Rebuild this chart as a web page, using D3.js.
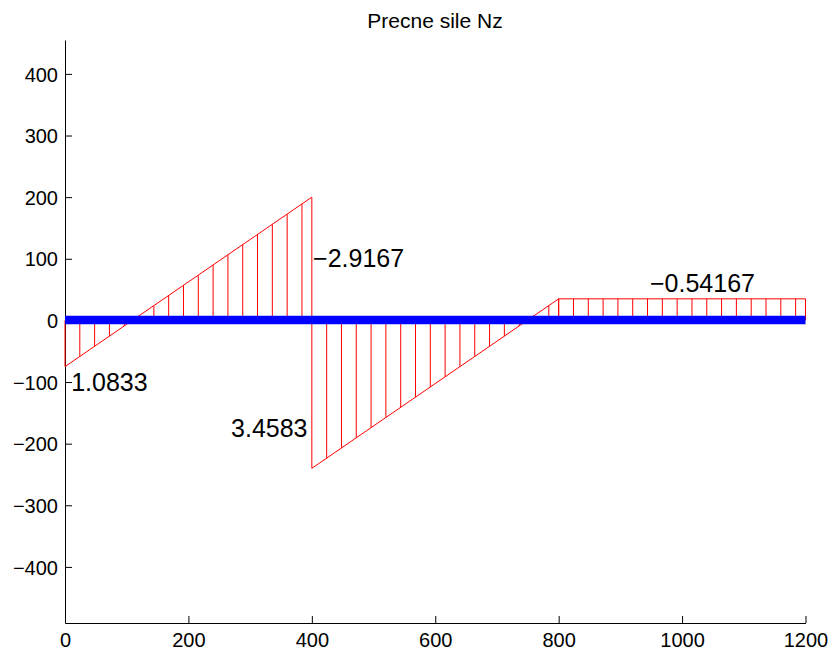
<!DOCTYPE html>
<html lang="en">
<head>
    <meta charset="UTF-8">
    <title>Precne sile Nz</title>
    <script src="https://d3js.org/d3.v7.min.js"></script>
    <style>
        body { margin: 0; background: #fff; }
        text { font-family: "Liberation Sans", Arial, sans-serif; fill: #000; }
        .tick-label { font-size: 20px; }
        .title { font-size: 21px; }
        .value-label { font-size: 25px; }
    </style>
</head>
<body>

<svg width="835" height="652"></svg>

<script>
    // Shear force segments (x in cm, value)
    const segFrom = [0, 400, 800];
    const segTo = [400, 800, 1200];
    const shearFrom = [-75, -240, 35];
    const shearTo = [200, 35, 35];
    const hatchStep = 24;

    // Ticks
    const xTicks = [0, 200, 400, 600, 800, 1000, 1200];
    const yTicks = [-400, -300, -200, -100, 0, 100, 200, 300, 400];

    // Value labels placed in data coordinates
    const labelText = ["1.0833", "\u22122.9167", "3.4583", "\u22120.54167"];
    const labelX = [10, 402, 393, 948];
    const labelY = [-114, 86, -189, 46];
    const labelAnchor = ["start", "start", "end", "start"];

    const x = d3.scaleLinear().domain([0, 1200]).range([65, 805.5]);
    const y = d3.scaleLinear().domain([-491, 455]).range([623, 40]);

    const svg = d3.select("svg");

    // Title
    svg.append("text")
        .attr("class", "title")
        .attr("x", 435)
        .attr("y", 28)
        .attr("text-anchor", "middle")
        .text("Precne sile Nz");

    const fmt = d => d < 0 ? "\u2212" + Math.abs(d) : String(d);

    // Axes (ticks pointing inward, like MATLAB)
    const xAxis = svg.append("g")
        .attr("transform", `translate(0,${y.range()[0]})`)
        .call(d3.axisBottom(x).tickValues(xTicks).tickSizeInner(-7).tickSizeOuter(0).tickFormat(fmt));

    const yAxis = svg.append("g")
        .attr("transform", `translate(${x.range()[0]},0)`)
        .call(d3.axisLeft(y).tickValues(yTicks).tickSizeInner(-7).tickSizeOuter(0).tickPadding(7).tickFormat(fmt));

    [xAxis, yAxis].forEach(g => {
        g.selectAll("text").attr("class", "tick-label");
        g.selectAll("line").attr("stroke", "#000");
        g.select(".domain").attr("stroke", "#000");
        g.attr("font-size", null).attr("font-family", null);
    });
    yAxis.selectAll("text").attr("dy", "0.36em");
    xAxis.selectAll("text").attr("y", 24).attr("dy", 0);

    // Shear diagram: hatching and outline
    const diagram = svg.append("g");
    segFrom.forEach((x0, i) => {
        const x1 = segTo[i];
        const v = t => shearFrom[i] + (shearTo[i] - shearFrom[i]) * (t - x0) / (x1 - x0);
        const hatch = d3.range(x0, x1, hatchStep).concat([x1]);

        diagram.selectAll(null)
            .data(hatch)
            .enter()
            .append("line")
            .attr("x1", d => x(d))
            .attr("x2", d => x(d))
            .attr("y1", y(0))
            .attr("y2", d => y(v(d)))
            .attr("stroke", "#ff0000")
            .attr("stroke-width", 1);

        diagram.append("line")
            .attr("x1", x(x0))
            .attr("y1", y(shearFrom[i]))
            .attr("x2", x(x1))
            .attr("y2", y(shearTo[i]))
            .attr("stroke", "#ff0000")
            .attr("stroke-width", 1);
    });

    // Beam line
    svg.append("line")
        .attr("x1", x(0))
        .attr("x2", x(1200))
        .attr("y1", y(0) - 0.5)
        .attr("y2", y(0) - 0.5)
        .attr("stroke", "#0000ff")
        .attr("stroke-width", 8.5);

    // Value labels
    svg.selectAll(".value-label")
        .data(labelText)
        .enter()
        .append("text")
        .attr("class", "value-label")
        .attr("x", (d, i) => x(labelX[i]))
        .attr("y", (d, i) => y(labelY[i]))
        .attr("text-anchor", (d, i) => labelAnchor[i])
        .text(d => d);
</script>

</body>
</html>
